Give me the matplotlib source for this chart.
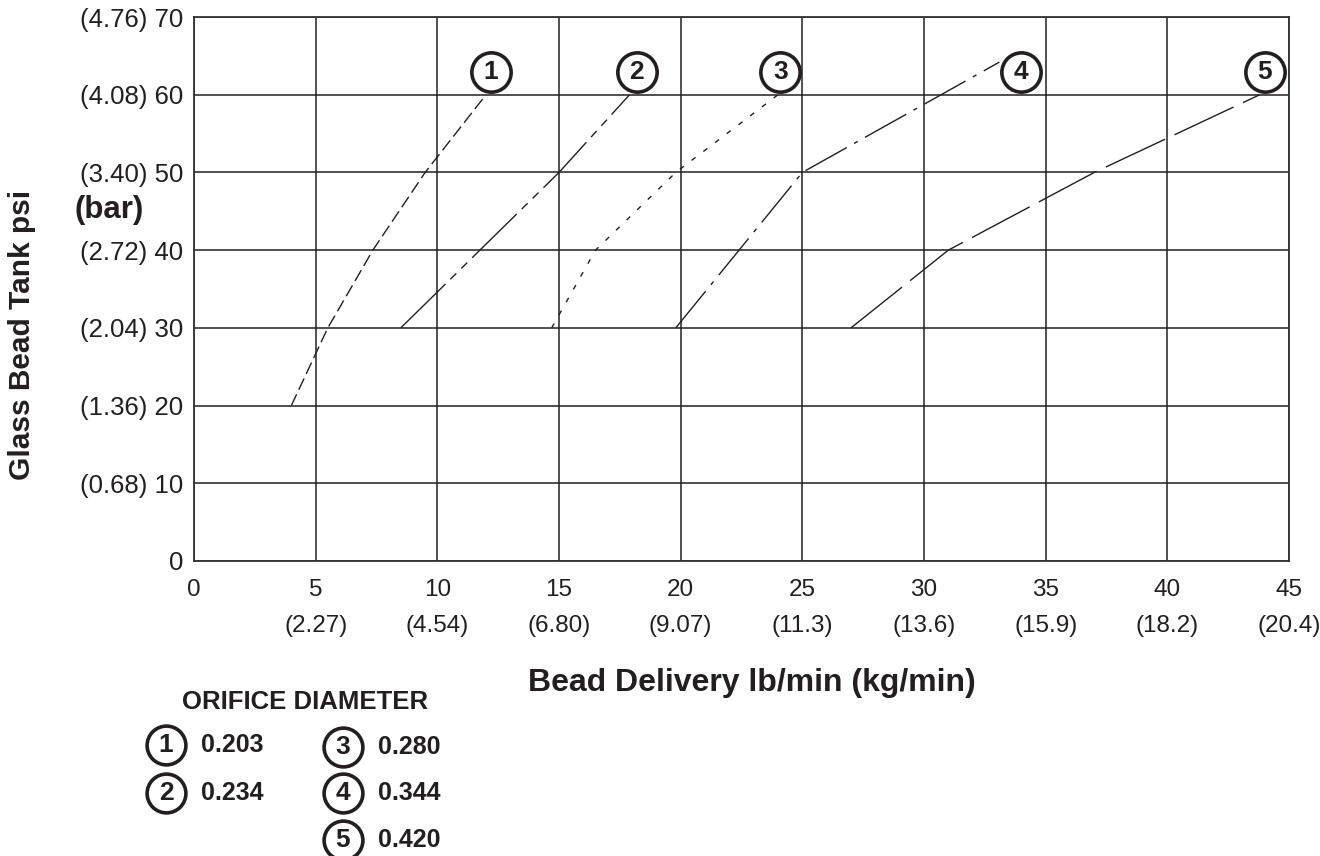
import matplotlib
matplotlib.use("Agg")
import matplotlib.pyplot as plt

plt.rcParams['font.family'] = ['Liberation Sans', 'DejaVu Sans']
INK = '#231f20'

# pressure (psi) and bar equivalents on the y axis
psi_ticks = [0, 10, 20, 30, 40, 50, 60, 70]
bar_labels = ['', '0.68', '1.36', '2.04', '2.72', '3.40', '4.08', '4.76']

# bead delivery lb/min and kg/min on the x axis
lb_ticks = [0, 5, 10, 15, 20, 25, 30, 35, 40, 45]
kg_labels = ['', '2.27', '4.54', '6.80', '9.07', '11.3', '13.6', '15.9', '18.2', '20.4']

# curves: delivery (lb/min) vs tank pressure (psi)
c1_x = [4.0, 5.5, 7.35, 9.5, 12.0]
c1_y = [20, 30, 40, 50, 60]
c2_x = [8.5, 15.0, 17.9]
c2_y = [30, 50, 60]
c3_x = [14.7, 16.5, 19.8, 24.0]
c3_y = [30, 40, 50, 60]
c4_x = [19.8, 25.0, 33.1]
c4_y = [30, 50, 64.2]
c5_x = [27.0, 31.0, 37.0, 43.8]
c5_y = [30, 40, 50, 60]

orifice = ['0.203', '0.234', '0.280', '0.344', '0.420']
label_x = [12.2, 18.2, 24.1, 34.0, 44.0]
label_y = [62.9, 62.9, 62.9, 62.9, 62.9]

curves = [(c1_x, c1_y), (c2_x, c2_y), (c3_x, c3_y), (c4_x, c4_y), (c5_x, c5_y)]
dashes = [(9, 3.6), (45, 5, 6, 5, 6, 5), (3.6, 7), (34, 6, 3, 6), (47, 7.5)]

W, H = 1320, 856
fig = plt.figure(figsize=(W / 100, H / 100), dpi=100)
ax = fig.add_axes([194 / W, 1 - 561 / H, (1289 - 194) / W, (561 - 17) / H])

for (xs, ys), d in zip(curves, dashes):
    ax.plot(xs, ys, color=INK, lw=1.0, dashes=d, zorder=3)

# circled curve numbers
ax.scatter(label_x, label_y, s=800, facecolor='white', edgecolor=INK,
           lw=2.6, zorder=4, clip_on=False)
for i, (lx, ly) in enumerate(zip(label_x, label_y)):
    ax.text(lx, ly, str(i + 1), ha='center', va='center', fontsize=19,
            fontweight='bold', color=INK, zorder=5)

ax.set_xlim(0, 45)
ax.set_ylim(0, 70)
ax.set_xticks(lb_ticks)
ax.set_xticklabels([str(v) if not k else f'{v}\n({k})' for v, k in zip(lb_ticks, kg_labels)])
ax.set_yticks(psi_ticks)
ax.set_yticklabels([str(v) if not b else f'({b}) {v}' for v, b in zip(psi_ticks, bar_labels)])
ax.tick_params(length=0, labelcolor=INK)
ax.tick_params(axis='x', pad=13, labelsize=17.5)
ax.tick_params(axis='y', pad=8, labelsize=18.5)
for t in ax.get_xticklabels():
    t.set_linespacing(1.8)
ax.grid(True, color=INK, lw=1.1)
ax.set_axisbelow(True)
for s in ax.spines.values():
    s.set_color('#333333')
    s.set_linewidth(1.3)

# axis titles
fig.text(22 / W, 1 - 335 / H, 'Glass Bead Tank psi', rotation=90, ha='center',
         va='center', fontsize=21.5, fontweight='bold', color=INK)
fig.text(109 / W, 1 - 210 / H, '(bar)', ha='center', va='center',
         fontsize=22.5, fontweight='bold', color=INK)
fig.text(752 / W, 1 - 683 / H, 'Bead Delivery lb/min (kg/min)', ha='center',
         va='center', fontsize=23, fontweight='bold', color=INK)

# orifice legend drawn in pixel space
lg = fig.add_axes([0, 0, 1, 1])
lg.set_xlim(0, W)
lg.set_ylim(H, 0)
lg.axis('off')
lg.text(305, 702, 'ORIFICE DIAMETER', ha='center', va='center',
        fontsize=18.5, fontweight='bold', color=INK)
leg_pos = [(166, 745), (166, 793), (343, 747), (343, 793), (343, 840)]
for i, ((px, py), d) in enumerate(zip(leg_pos, orifice)):
    lg.scatter([px], [py], s=780, facecolor='white', edgecolor=INK, lw=2.6,
               clip_on=False)
    lg.text(px, py, str(i + 1), ha='center', va='center', fontsize=19,
            fontweight='bold', color=INK)
    lg.text(px + 35, py, d, ha='left', va='center', fontsize=18,
            fontweight='bold', color=INK)

fig.savefig('out.png', dpi=100)
